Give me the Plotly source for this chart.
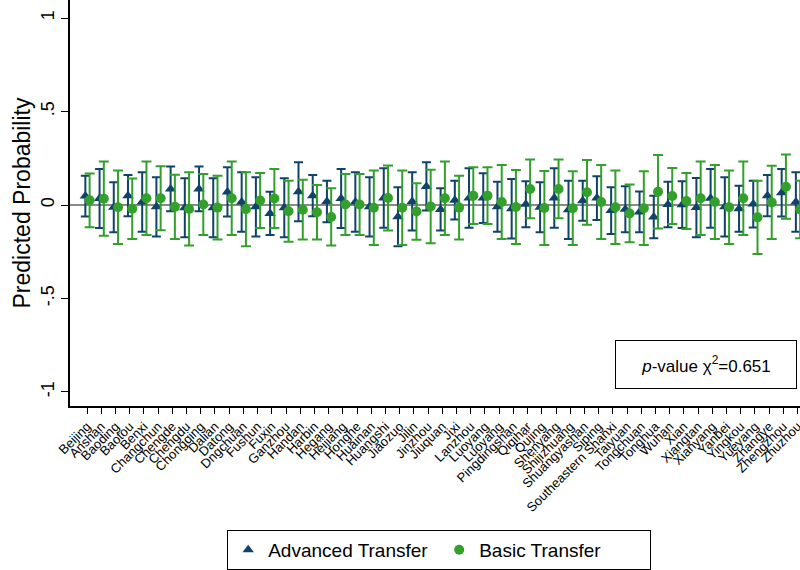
import plotly.graph_objects as go

cities = ["Beijing", "Anshan", "Baoding", "Baotou", "Benxi", "Changchun", "Chengde", "Chengdu",
          "Chongqing", "Dalian", "Datong", "Dngchuan", "Fushun", "Fuxin", "Ganzhou", "Handan",
          "Harbin", "Hegang", "Heijiang", "Honghe", "Huainan", "Huangshi", "Jiaozuo", "Jilin",
          "Jinzhou", "Jiuquan", "Jixi", "Lanzhou", "Luoyang", "Luoyang", "Pingdingshan", "Qiqihar",
          "Qujing", "Shenyang", "Shijizhuang", "Shuangyashan", "Siping", "Southeastern Shanxi",
          "Taiyuan", "Tongchuan", "Tonghua", "Wuhan", "Xian", "Xiangtan", "Xianyang", "Yanbei",
          "Yingkou", "Yueyang", "Zhangye", "Zhengzhou", "Zhuzhou"]

adv_pt = [0.048, 0.035, -0.012, 0.05, 0.016, -0.01, 0.086, -0.015, 0.086, -0.015, 0.07, 0.016,
          -0.01, -0.045, -0.015, 0.071, 0.05, 0.019, 0.035, 0.016, -0.01, 0.037, -0.063, 0.019,
          0.099, -0.024, 0.026, 0.037, 0.037, -0.009, -0.02, 0.004, -0.012, 0.037, -0.026, 0.023,
          0.037, -0.03, -0.023, -0.037, -0.064, 0.003, 0.002, -0.014, 0.036, -0.01, -0.02, 0.005,
          0.05, 0.065, 0.016]
adv_lo = [-0.061, -0.123, -0.146, -0.06, -0.143, -0.168, -0.034, -0.173, -0.034, -0.173, -0.062,
          -0.143, -0.168, -0.161, -0.173, -0.087, -0.06, -0.092, -0.123, -0.143, -0.168, -0.122,
          -0.221, -0.137, -0.03, -0.137, -0.078, -0.122, -0.096, -0.143, -0.179, -0.119, -0.146,
          -0.122, -0.182, -0.084, -0.08, -0.155, -0.146, -0.146, -0.178, -0.119, -0.123, -0.173,
          -0.121, -0.168, -0.143, -0.12, -0.06, -0.062, -0.143]
adv_hi = [0.157, 0.193, 0.122, 0.16, 0.175, 0.148, 0.206, 0.143, 0.206, 0.143, 0.202, 0.175,
          0.148, 0.071, 0.143, 0.229, 0.16, 0.13, 0.193, 0.175, 0.148, 0.196, 0.095, 0.175,
          0.228, 0.089, 0.13, 0.196, 0.17, 0.125, 0.139, 0.127, 0.122, 0.196, 0.13, 0.13,
          0.154, 0.095, 0.1, 0.072, 0.05, 0.125, 0.127, 0.145, 0.193, 0.148, 0.103, 0.13,
          0.16, 0.192, 0.175]

bas_pt = [0.025, 0.034, -0.012, -0.02, 0.036, 0.036, -0.01, -0.021, 0.003, -0.014, 0.036, -0.023,
          0.024, 0.035, -0.033, -0.025, -0.039, -0.064, 0.003, 0.003, -0.015, 0.037, -0.015, -0.035,
          -0.008, 0.036, -0.014, 0.05, 0.05, 0.016, -0.011, 0.086, -0.016, 0.086, -0.017, 0.068,
          0.016, -0.012, -0.045, -0.017, 0.071, 0.048, 0.021, 0.036, 0.016, -0.012, 0.036, -0.066,
          0.014, 0.098, -0.024]
bas_lo = [-0.119, -0.164, -0.208, -0.182, -0.16, -0.135, -0.182, -0.217, -0.16, -0.185, -0.16,
          -0.221, -0.123, -0.123, -0.196, -0.185, -0.185, -0.217, -0.16, -0.16, -0.214, -0.137,
          -0.214, -0.186, -0.205, -0.16, -0.185, -0.102, -0.102, -0.182, -0.209, -0.071, -0.214,
          -0.071, -0.214, -0.105, -0.182, -0.208, -0.199, -0.214, -0.125, -0.102, -0.129, -0.16,
          -0.182, -0.208, -0.16, -0.262, -0.182, -0.074, -0.178]
bas_hi = [0.169, 0.232, 0.184, 0.142, 0.232, 0.207, 0.162, 0.175, 0.166, 0.157, 0.232, 0.175,
          0.171, 0.193, 0.13, 0.135, 0.107, 0.089, 0.166, 0.166, 0.184, 0.211, 0.184, 0.116,
          0.189, 0.232, 0.157, 0.202, 0.202, 0.214, 0.187, 0.243, 0.182, 0.243, 0.18, 0.241,
          0.214, 0.184, 0.109, 0.18, 0.267, 0.198, 0.171, 0.232, 0.214, 0.184, 0.232, 0.13,
          0.21, 0.27, 0.13]

ytick_vals = [-1, -0.5, 0, 0.5, 1]
ytick_text = ["-1", "-.5", "0", ".5", "1"]

NAVY = "#10436a"
GREEN = "#33a02c"
FONT = "Liberation Sans, Arial, sans-serif"

idx = list(range(len(cities)))
x_adv = [i - 0.12 for i in idx]
x_bas = [i + 0.18 for i in idx]

fig = go.Figure()
fig.add_hline(y=0, line=dict(color="#8a8a8a", width=2.2), layer="below")

fig.add_trace(go.Scatter(
    x=x_adv, y=adv_pt, mode="markers", name="Advanced Transfer",
    marker=dict(symbol="triangle-up", size=10, color=NAVY),
    error_y=dict(type="data", symmetric=False,
                 array=[h - p for h, p in zip(adv_hi, adv_pt)],
                 arrayminus=[p - l for p, l in zip(adv_pt, adv_lo)],
                 color=NAVY, thickness=2, width=4.5),
))
fig.add_trace(go.Scatter(
    x=x_bas, y=bas_pt, mode="markers", name="Basic Transfer",
    marker=dict(symbol="circle", size=10, color=GREEN),
    error_y=dict(type="data", symmetric=False,
                 array=[h - p for h, p in zip(bas_hi, bas_pt)],
                 arrayminus=[p - l for p, l in zip(bas_pt, bas_lo)],
                 color=GREEN, thickness=2, width=5),
))

fig.add_annotation(
    xref="paper", yref="paper", x=0.871, y=0.101, xanchor="center", yanchor="middle",
    text="<i>p</i>-value χ<sup>2</sup>=0.651", showarrow=False,
    font=dict(family=FONT, size=17, color="black"),
    width=180, height=47, bordercolor="black", borderwidth=1, borderpad=0,
    bgcolor="white",
)

fig.update_layout(
    width=800, height=570,
    margin=dict(l=70, r=0, t=0, b=164, autoexpand=False),
    paper_bgcolor="white", plot_bgcolor="white",
    font=dict(family=FONT, color="black"),
    showlegend=True,
    legend=dict(orientation="h", xref="container", yref="container",
                x=0.549, xanchor="center", y=0.0702, yanchor="top",
                bordercolor="black", borderwidth=1, font=dict(size=19, family=FONT),
                entrywidth=166, entrywidthmode="pixels", itemwidth=30, tracegroupgap=0),
    xaxis=dict(range=[-1.2, 50.17], tickmode="array", tickvals=idx, ticktext=cities,
               tickangle=-45, tickfont=dict(size=13, family=FONT), automargin=False,
               ticklabeloverflow="allow",
               showgrid=False, zeroline=False, showline=True, linecolor="black", linewidth=1.5,
               ticks="outside", ticklen=6, tickcolor="black", tickwidth=1.3),
    yaxis=dict(range=[-1.0749, 1.0963], tickmode="array", tickvals=ytick_vals, ticktext=ytick_text,
               tickangle=-90, tickfont=dict(size=18, family=FONT), automargin=False,
               title=dict(text="Predicted Probability", font=dict(size=23, family=FONT), standoff=1),
               showgrid=False, zeroline=False, showline=True, linecolor="black", linewidth=1.5,
               ticks="outside", ticklen=7, tickcolor="black", tickwidth=1.3),
)

fig.write_html("out.html", config={"displayModeBar": False},
               post_script="document.body.style.margin='0';document.body.style.overflow='hidden';")
